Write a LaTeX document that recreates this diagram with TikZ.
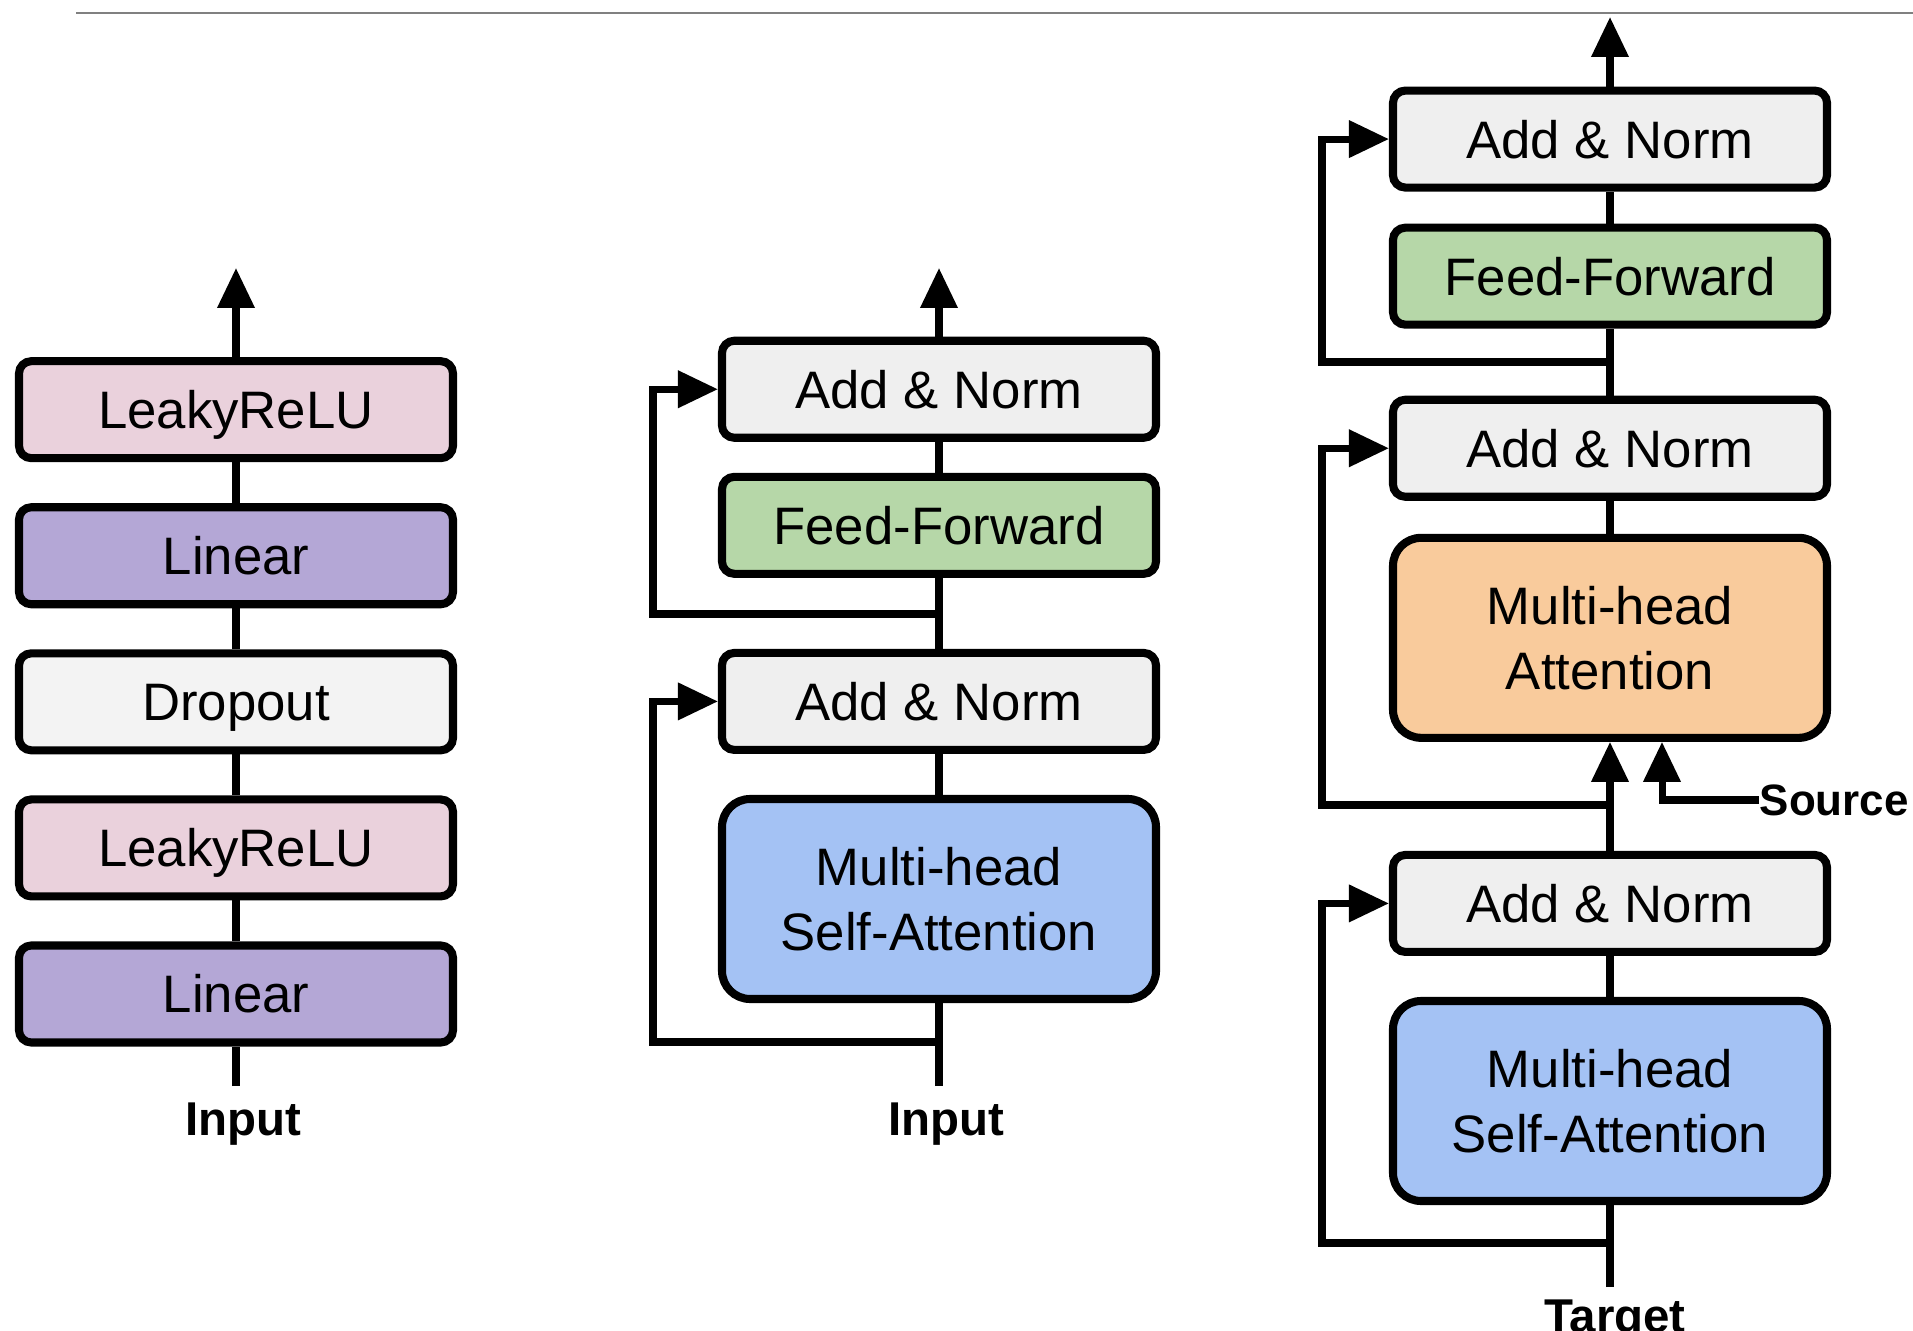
\documentclass[tikz,border=0pt]{standalone}
\usepackage{fontspec}
\setmainfont{Liberation Sans}
\usetikzlibrary{arrows.meta,positioning}
\definecolor{relufill}{HTML}{EAD1DC}
\definecolor{linfill}{HTML}{B4A7D6}
\definecolor{dropfill}{HTML}{F3F3F3}
\definecolor{normfill}{HTML}{EFEFEF}
\definecolor{fffill}{HTML}{B6D7A8}
\definecolor{selffill}{HTML}{A4C2F4}
\definecolor{attfill}{HTML}{F9CB9C}
\begin{document}
\begin{tikzpicture}[
  font=\fontsize{15}{18.5}\selectfont,
  blk/.style={draw, line width=2.3pt, rounded corners=3.5pt, align=center, minimum width=4.34cm, minimum height=0.97cm, inner sep=0pt, text height=10.8pt, text depth=0pt},
  big/.style={blk, rounded corners=8pt, minimum height=2.0cm, text height=, text depth=},
  flow/.style={line width=2pt},
  up/.style={flow, -{Triangle[length=0.4cm, width=0.36cm]}},
  lab/.style={font=\fontsize{13.5}{16}\selectfont\bfseries, inner sep=0pt}]
\useasboundingbox (0,0) rectangle (19.13,-13.31);
\draw[gray, line width=0.6pt] (0.76,-0.13) -- (19.13,-0.13);
\node[blk, fill=linfill] (lLin1) at (2.36,-9.94) {Linear};
\node[blk, fill=relufill, above=0.41cm of lLin1] (lRelu1) {LeakyReLU};
\node[blk, fill=dropfill, above=0.41cm of lRelu1] (lDrop) {Dropout};
\node[blk, fill=linfill, above=0.41cm of lDrop] (lLin2) {Linear};
\node[blk, fill=relufill, above=0.41cm of lLin2] (lRelu2) {LeakyReLU};
\coordinate (lEnd) at (2.36,-10.86);
\coordinate (lTop) at (2.36,-2.68);
\node[lab, below=0.16cm of lEnd, xshift=0.07cm] (lIn) {Input};
\node[big, fill=selffill] (mSA) at (9.39,-8.99) {Multi-head\\Self-Attention};
\node[blk, fill=normfill, above=0.41cm of mSA] (mAN1) {Add \& Norm};
\node[blk, fill=fffill, above=0.71cm of mAN1] (mFF) {Feed-Forward};
\node[blk, fill=normfill, above=0.31cm of mFF] (mAN2) {Add \& Norm};
\coordinate (mEnd) at (9.39,-10.86);
\coordinate (mTop) at (9.39,-2.68);
\coordinate (mJ1) at (9.39,-10.42);
\coordinate (mJ2) at (9.39,-6.14);
\node[lab, below=0.16cm of mEnd, xshift=0.07cm] (mIn) {Input};
\node[big, fill=selffill] (rSA) at (16.10,-11.01) {Multi-head\\Self-Attention};
\node[blk, fill=normfill, above=0.41cm of rSA] (rAN1) {Add \& Norm};
\node[big, fill=attfill, above=1.09cm of rAN1] (rMHA) {Multi-head\\Attention};
\node[blk, fill=normfill, above=0.33cm of rMHA] (rAN2) {Add \& Norm};
\node[blk, fill=fffill, above=0.67cm of rAN2] (rFF) {Feed-Forward};
\node[blk, fill=normfill, above=0.32cm of rFF] (rAN3) {Add \& Norm};
\coordinate (rEnd) at (16.10,-12.87);
\coordinate (rTop) at (16.10,-0.17);
\coordinate (rJ1) at (16.10,-12.43);
\coordinate (rJ2) at (16.10,-8.05);
\coordinate (rJ3) at (16.10,-3.62);
\node[lab, below=0.12cm of rEnd, xshift=0.05cm] (rTgt) {Target};
\node[lab, font=\fontsize{12.5}{15}\selectfont\bfseries, anchor=west] (src) at (17.59,-8.0) {Source};
\foreach \a/\b in {lEnd/lLin1, lLin1/lRelu1, lRelu1/lDrop, lDrop/lLin2, lLin2/lRelu2,
  mEnd/mSA, mSA/mAN1, mAN1/mFF, mFF/mAN2, rEnd/rSA, rSA/rAN1, rMHA/rAN2, rAN2/rFF, rFF/rAN3}
  \draw[flow] (\a) -- (\b);
\draw[up] (lRelu2) -- (lTop);
\draw[up] (mAN2) -- (mTop);
\draw[up] (rAN3) -- (rTop);
\draw[up] (rAN1) -- (rMHA);
\draw[up] (mJ1) -- ++(-2.86,0) |- (mAN1.west);
\draw[up] (mJ2) -- ++(-2.86,0) |- (mAN2.west);
\draw[up] (rJ1) -- ++(-2.88,0) |- (rAN1.west);
\draw[up] (rJ2) -- ++(-2.88,0) |- (rAN2.west);
\draw[up] (rJ3) -- ++(-2.88,0) |- (rAN3.west);
\draw[up] (src.west) -| ([xshift=0.52cm]rMHA.south);
\end{tikzpicture}
\end{document}
